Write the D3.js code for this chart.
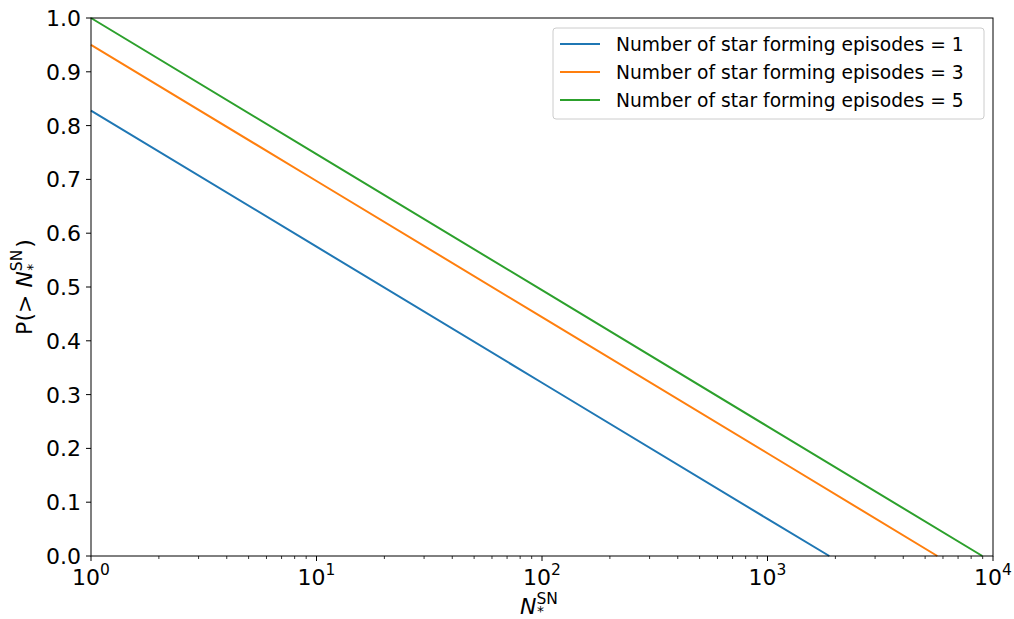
<!DOCTYPE html>
<html>
<head>
<meta charset="utf-8">
<title>P(> N SN)</title>
<script src="https://cdn.jsdelivr.net/npm/d3@7"></script>
<style>
  body { margin: 0; background: #fff; }
  text { font-family: "DejaVu Sans", sans-serif; fill: #000; }
</style>
</head>
<body>
<script>
// values (log x, linear y)
var nStar = [1, 10, 100, 1000];
var episodes = [1, 3, 5];
var blueP   = [0.828, 0.575, 0.322, 0.069];
var orangeP = [0.950, 0.697, 0.444, 0.191];
var greenP  = [1.000, 0.747, 0.494, 0.241];
var zeroAt  = [1880, 5665, 8970];   // where each line reaches P = 0
var colors  = ["#1f77b4", "#ff7f0e", "#2ca02c"];
var yTicks  = [0, 0.1, 0.2, 0.3, 0.4, 0.5, 0.6, 0.7, 0.8, 0.9, 1.0];
var xMajor  = [1, 10, 100, 1000, 10000];

var width = 1014, height = 619;
var margin = {top: 18, right: 21, bottom: 63, left: 91};

var svg = d3.select("body").append("svg")
    .attr("width", width)
    .attr("height", height);

var x = d3.scaleLog().domain([1, 10000]).range([margin.left, width - margin.right]);
var y = d3.scaleLinear().domain([0, 1]).range([height - margin.bottom, margin.top]);

var series = [blueP, orangeP, greenP].map(function (vals, i) {
    var pts = nStar.map(function (n, j) { return {x: n, y: vals[j]}; });
    pts.push({x: zeroAt[i], y: 0});
    return pts;
});

// x axis
var minor = [];
for (var d = 1; d < 10000; d *= 10)
    for (var k = 2; k < 10; k++) minor.push(d * k);

var xAxisG = svg.append("g")
    .attr("transform", "translate(0," + (height - margin.bottom) + ")");

xAxisG.selectAll("line.minor").data(minor).enter().append("line")
    .attr("x1", function (d) { return x(d); })
    .attr("x2", function (d) { return x(d); })
    .attr("y1", 0).attr("y2", 3)
    .attr("stroke", "#000").attr("stroke-width", 0.8);

xAxisG.selectAll("line.major").data(xMajor).enter().append("line")
    .attr("x1", function (d) { return x(d); })
    .attr("x2", function (d) { return x(d); })
    .attr("y1", 0).attr("y2", 5)
    .attr("stroke", "#000").attr("stroke-width", 1);

var xl = xAxisG.selectAll("text.xt").data(xMajor).enter().append("text")
    .attr("x", function (d) { return x(d); })
    .attr("y", 29)
    .attr("text-anchor", "middle")
    .style("font-size", "22px");
xl.append("tspan").text("10");
xl.append("tspan").attr("dy", -10).style("font-size", "15.5px")
    .text(function (d) { return Math.round(Math.log10(d)); });

// y axis
var yAxisG = svg.append("g").attr("transform", "translate(" + margin.left + ",0)");
yAxisG.selectAll("line").data(yTicks).enter().append("line")
    .attr("x1", -5).attr("x2", 0)
    .attr("y1", function (d) { return y(d); })
    .attr("y2", function (d) { return y(d); })
    .attr("stroke", "#000");
yAxisG.selectAll("text").data(yTicks).enter().append("text")
    .attr("x", -10)
    .attr("y", function (d) { return y(d); })
    .attr("dy", "0.36em")
    .attr("text-anchor", "end")
    .style("font-size", "22px")
    .text(function (d) { return d.toFixed(1); });

// lines
var line = d3.line()
    .x(function (d) { return x(d.x); })
    .y(function (d) { return y(d.y); });

svg.append("g").selectAll("path").data(series).enter().append("path")
    .attr("d", line)
    .attr("fill", "none")
    .attr("stroke", function (d, i) { return colors[i]; })
    .attr("stroke-width", 2);

// frame
svg.append("rect")
    .attr("x", margin.left).attr("y", margin.top)
    .attr("width", width - margin.left - margin.right)
    .attr("height", height - margin.top - margin.bottom)
    .attr("fill", "none").attr("stroke", "#000").attr("stroke-width", 1);

// axis labels
var xLab = svg.append("text")
    .attr("x", 520)
    .attr("y", 614)
    .style("font-size", "22px");
xLab.append("tspan").style("font-style", "italic").text("N");
xLab.append("tspan").attr("dy", -10).style("font-size", "15.5px").text("SN");
xLab.append("tspan").attr("dx", -21).attr("dy", 12).style("font-size", "14px").text("*");

var yLab = svg.append("text")
    .attr("transform", "translate(32," + ((margin.top + height - margin.bottom) / 2) + ") rotate(-90)")
    .attr("text-anchor", "middle")
    .style("font-size", "22px");
yLab.append("tspan").text("P(> ");
yLab.append("tspan").style("font-style", "italic").text("N");
yLab.append("tspan").attr("dy", -10).style("font-size", "15.5px").text("SN");
yLab.append("tspan").attr("dx", -21).attr("dy", 15).style("font-size", "14px").text("*");
yLab.append("tspan").attr("dx", 16).attr("dy", -5).text(")");

// legend
var lg = svg.append("g").attr("transform", "translate(553,28)");
lg.append("rect")
    .attr("width", 431).attr("height", 91).attr("rx", 3)
    .attr("fill", "#fff").attr("fill-opacity", 0.8)
    .attr("stroke", "#ccc");
var items = lg.selectAll("g.item").data(episodes).enter().append("g")
    .attr("transform", function (d, i) { return "translate(0," + (16 + i * 28) + ")"; });
items.append("line")
    .attr("x1", 7).attr("x2", 47)
    .attr("stroke", function (d, i) { return colors[i]; })
    .attr("stroke-width", 2);
items.append("text")
    .attr("x", 63).attr("dy", "0.36em")
    .style("font-size", "18.7px")
    .text(function (d) { return "Number of star forming episodes = " + d; });
</script>
</body>
</html>
